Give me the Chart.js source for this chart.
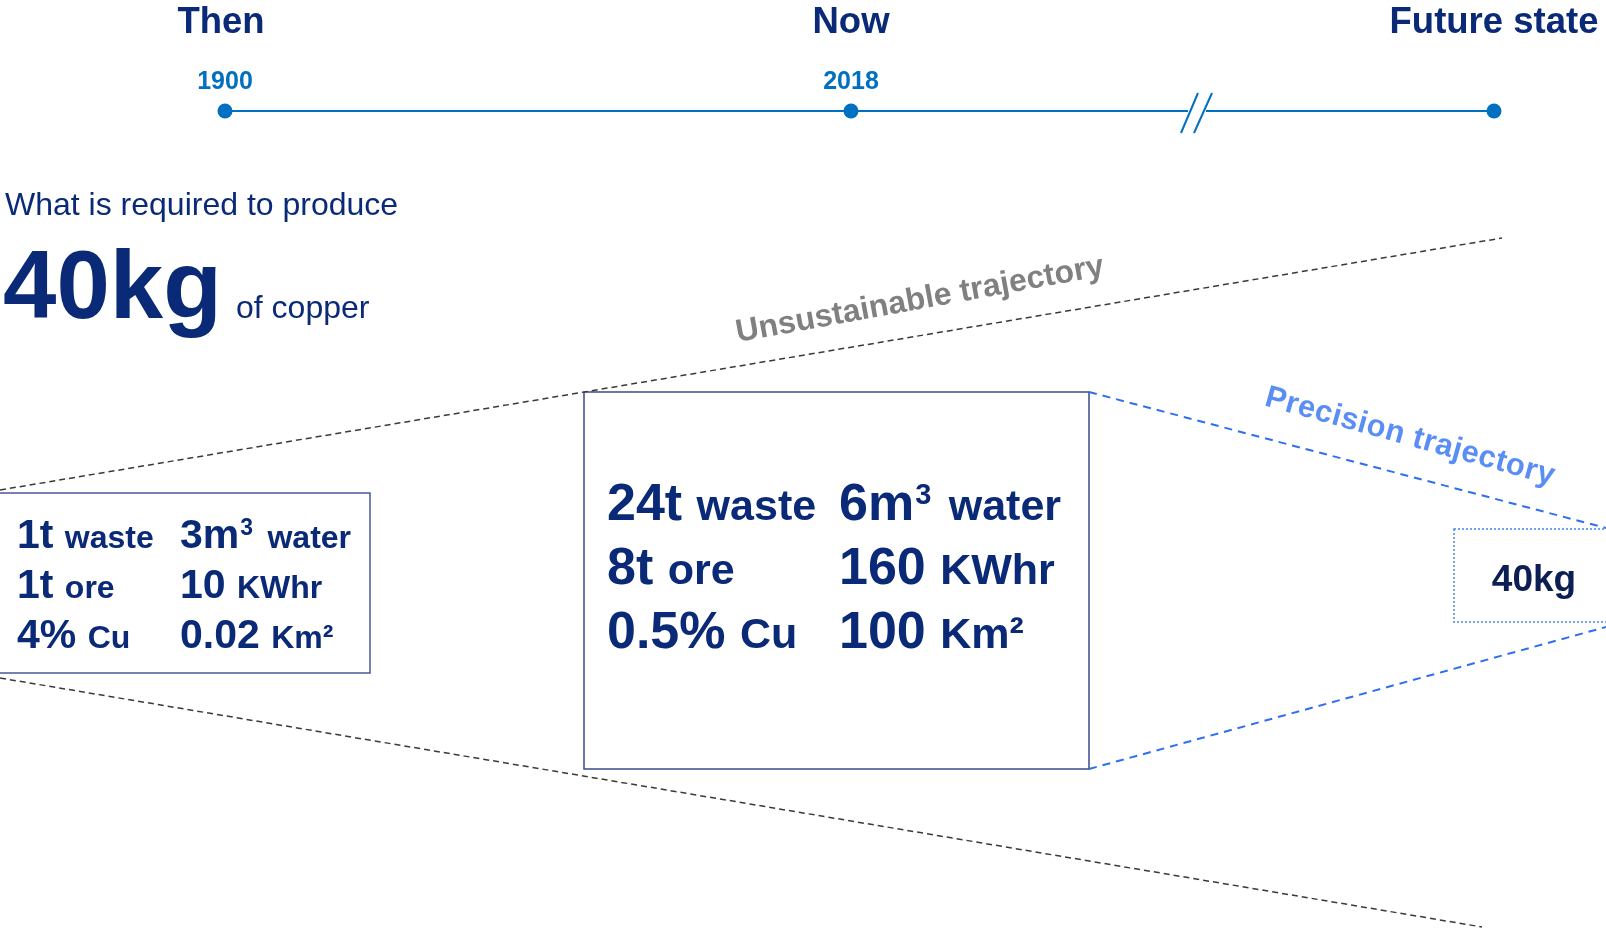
<!DOCTYPE html>
<html>
<head>
<meta charset="utf-8">
<title>Copper requirements</title>
<script src="https://cdn.jsdelivr.net/npm/chart.js@4.4.0/dist/chart.umd.min.js"></script>
<style>
  html, body { margin: 0; padding: 0; background: #fff; }
  #wrap { width: 1606px; height: 932px; position: relative; }
</style>
</head>
<body>
<div id="wrap"><canvas id="copperChart"></canvas></div>
<script>
// --- content ---
const milestones = ['Then', 'Now', 'Future state'];
const years = ['1900', '2018'];
const resources = ['waste', 'ore', 'Cu', 'water', 'KWhr', 'Km²'];
const thenValues = ['1t', '1t', '4%', '3m³', '10', '0.02'];
const nowValues = ['24t', '8t', '0.5%', '6m³', '160', '100'];
const targetAmount = '40kg';
const targetUnit = 'of copper';
const targetIntro = 'What is required to produce';
const trajectories = ['Unsustainable trajectory', 'Precision trajectory'];

// --- layout (plot units = canvas pixels) ---
const W = 1606, H = 932;
const FONT = '"Liberation Sans", Arial, sans-serif';
const NAVY = '#0a2a78';
const BLUE = '#0070c0';
const BRIGHT = '#2f6fef';

const timelineY = 111;
const milestoneX = [225, 851, 1494];
const breakAt = [1188, 1206];

const line = (pts, color, width, dash) => ({
  type: 'scatter',
  data: pts.map(([x, y]) => ({ x, y })),
  showLine: true,
  borderColor: color,
  borderWidth: width,
  borderDash: dash || [],
  pointRadius: 0,
  clip: false
});

const datasets = [
  // timeline
  {
    type: 'scatter',
    data: milestoneX.map(x => ({ x, y: timelineY })),
    pointRadius: 7.5,
    pointBackgroundColor: BLUE,
    pointBorderWidth: 0,
    clip: false
  },
  line([[milestoneX[0], timelineY], [breakAt[0], timelineY]], BLUE, 2),
  line([[breakAt[1], timelineY], [milestoneX[2], timelineY]], BLUE, 2),
  line([[1181, 133], [1198, 93]], BLUE, 2),
  line([[1194, 133], [1212, 93]], BLUE, 2),
  // unsustainable cone
  line([[0, 490], [1502, 238]], '#3a3a3a', 1.5, [6, 4]),
  line([[0, 678], [1482, 927]], '#3a3a3a', 1.5, [6, 4]),
  // precision cone
  line([[1089, 392], [1606, 528]], BRIGHT, 2, [8, 6]),
  line([[1089, 769], [1606, 627]], BRIGHT, 2, [8, 6])
];

const boxes = [
  { x0: -5, y0: 493, x1: 370, y1: 673, color: '#4a5a94', width: 1.5, dash: [] },
  { x0: 584, y0: 392, x1: 1089, y1: 769, color: '#3a4a8c', width: 1.5, dash: [] },
  { x0: 1454, y0: 529, x1: 1612, y1: 622, color: '#4a86f0', width: 1.5, dash: [2, 2] }
];

const statBlocks = [
  { values: thenValues, cols: [17, 180], rows: [548, 598, 648], big: 41, small: 32 },
  { values: nowValues, cols: [607, 839], rows: [520, 584, 648], big: 52, small: 43 }
];

// big figure, with a trailing "³" drawn as a raised smaller digit
function drawFigure(ctx, text, x, y, size) {
  ctx.font = `bold ${size}px ${FONT}`;
  const sup = text.endsWith('³');
  const base = sup ? text.slice(0, -1) : text;
  ctx.fillText(base, x, y);
  let w = ctx.measureText(base).width;
  if (sup) {
    ctx.font = `bold ${Math.round(size * 0.56)}px ${FONT}`;
    ctx.fillText('3', x + w + 1, y - size * 0.31);
    w += ctx.measureText('3').width + 4;
  }
  ctx.font = `bold ${size}px ${FONT}`;
  return w + ctx.measureText(' ').width;
}

const annotations = {
  id: 'annotations',
  beforeDatasetsDraw(chart) {
    const { ctx, scales: { x, y } } = chart;
    ctx.save();
    boxes.forEach(b => {
      ctx.strokeStyle = b.color;
      ctx.lineWidth = b.width;
      ctx.setLineDash(b.dash);
      const px0 = x.getPixelForValue(b.x0), py0 = y.getPixelForValue(b.y0);
      const px1 = x.getPixelForValue(b.x1), py1 = y.getPixelForValue(b.y1);
      ctx.strokeRect(px0, py0, px1 - px0, py1 - py0);
    });
    ctx.restore();
  },
  afterDatasetsDraw(chart) {
    const { ctx, scales: { x, y } } = chart;
    const X = v => x.getPixelForValue(v);
    const Y = v => y.getPixelForValue(v);
    ctx.save();
    ctx.textBaseline = 'alphabetic';

    // milestone headings and years
    ctx.textAlign = 'center';
    ctx.fillStyle = NAVY;
    ctx.font = `bold 36.5px ${FONT}`;
    milestones.forEach((m, i) => ctx.fillText(m, X(milestoneX[i]) - (i === 0 ? 4 : 0), Y(33)));
    ctx.fillStyle = BLUE;
    ctx.font = `bold 25px ${FONT}`;
    years.forEach((yr, i) => ctx.fillText(yr, X(milestoneX[i]), Y(89)));

    // headline
    ctx.textAlign = 'left';
    ctx.fillStyle = NAVY;
    ctx.font = `32px ${FONT}`;
    ctx.fillText(targetIntro, X(5), Y(215));
    ctx.font = `bold 96px ${FONT}`;
    ctx.fillText(targetAmount, X(3), Y(318));
    ctx.font = `32px ${FONT}`;
    ctx.fillText(targetUnit, X(236), Y(318));

    // resource figures
    statBlocks.forEach(s => {
      s.values.forEach((v, i) => {
        const col = Math.floor(i / 3), row = i % 3;
        const px = X(s.cols[col]);
        const py = Y(s.rows[row]);
        const w = drawFigure(ctx, v, px, py, s.big);
        ctx.font = `bold ${s.small}px ${FONT}`;
        ctx.fillText(resources[i], px + w, py);
      });
    });

    // future target
    ctx.textAlign = 'center';
    ctx.fillStyle = '#0c1f55';
    ctx.font = `bold 37px ${FONT}`;
    ctx.fillText(targetAmount, X(1534), Y(591));

    // trajectory labels
    ctx.textBaseline = 'middle';
    ctx.save();
    ctx.translate(X(920), Y(300));
    ctx.rotate(-10.3 * Math.PI / 180);
    ctx.fillStyle = '#808080';
    ctx.font = `bold 32px ${FONT}`;
    ctx.fillText(trajectories[0], 0, 0);
    ctx.restore();

    ctx.save();
    ctx.translate(X(1410), Y(437));
    ctx.rotate(15.5 * Math.PI / 180);
    ctx.fillStyle = '#5b8ef5';
    ctx.font = `bold 31px ${FONT}`;
    ctx.letterSpacing = '0.5px';
    ctx.fillText(trajectories[1], 0, 0);
    ctx.restore();

    ctx.restore();
  }
};

new Chart(document.getElementById('copperChart'), {
  type: 'scatter',
  data: { datasets },
  options: {
    responsive: true,
    maintainAspectRatio: false,
    animation: false,
    events: [],
    layout: { padding: 0, autoPadding: false },
    plugins: { legend: { display: false }, tooltip: { enabled: false } },
    scales: {
      x: { type: 'linear', display: false, min: 0, max: W },
      y: { type: 'linear', display: false, min: 0, max: H, reverse: true }
    }
  },
  plugins: [annotations]
});
</script>
</body>
</html>
